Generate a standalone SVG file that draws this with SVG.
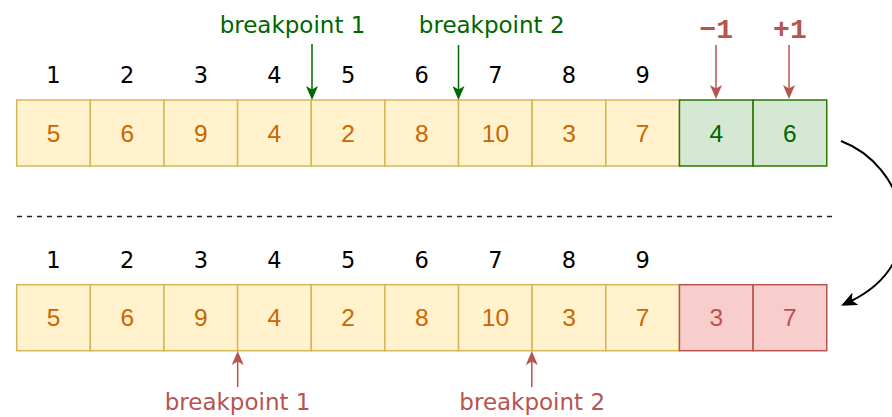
<svg xmlns="http://www.w3.org/2000/svg" width="892" height="417" viewBox="0 0 892 417">
<style>
.y{fill:#fff2cc;stroke:#d6b656;stroke-width:1.5}
.g{fill:#d5e8d4;stroke:#2d7600;stroke-width:1.5}
.r{fill:#f8cecc;stroke:#b85450;stroke-width:1.5}
.ty{fill:#cc6600}
.tg{fill:#006600}
.tr{fill:#b85450}
.v{font-family:"Liberation Sans",Arial,sans-serif;font-size:24.5px;text-anchor:middle}
.idx{font-family:"DejaVu Sans",Verdana,sans-serif;font-size:22.5px;text-anchor:middle;fill:#000}
.lbl{font-family:"DejaVu Sans",Verdana,sans-serif;font-size:23px;text-anchor:middle}
.pm{font-family:"Liberation Mono","Courier New",monospace;font-size:28px;font-weight:bold;text-anchor:middle;fill:#b85450}
</style>
<defs>
<marker id="ag" viewBox="0 0 14 12" refX="4" refY="6" markerWidth="14" markerHeight="12" markerUnits="userSpaceOnUse" orient="auto"><path d="M0,0 L14,6 L0,12 L3.5,6 Z" fill="#006600"/></marker>
<marker id="ar" viewBox="0 0 14 12" refX="4" refY="6" markerWidth="14" markerHeight="12" markerUnits="userSpaceOnUse" orient="auto"><path d="M0,0 L14,6 L0,12 L3.5,6 Z" fill="#b85450"/></marker>
<marker id="ak" viewBox="0 0 16 14" refX="5" refY="7" markerWidth="16" markerHeight="14" markerUnits="userSpaceOnUse" orient="auto"><path d="M0,0 L16,7 L0,14 L4,7 Z" fill="#000"/></marker>
</defs>

<g id="top-indices" class="idx">
<text x="53.5" y="83">1</text><text x="127.2" y="83">2</text><text x="200.8" y="83">3</text><text x="274.4" y="83">4</text><text x="348.1" y="83">5</text><text x="421.7" y="83">6</text><text x="495.4" y="83">7</text><text x="569" y="83">8</text><text x="642.6" y="83">9</text>
</g>

<g id="top-row">
<g id="t1"><rect class="y" x="16.7" y="100" width="73.64" height="66"/><text class="v ty" x="53.5" y="141.5">5</text></g>
<g id="t2"><rect class="y" x="90.34" y="100" width="73.64" height="66"/><text class="v ty" x="127.2" y="141.5">6</text></g>
<g id="t3"><rect class="y" x="163.98" y="100" width="73.64" height="66"/><text class="v ty" x="200.8" y="141.5">9</text></g>
<g id="t4"><rect class="y" x="237.62" y="100" width="73.64" height="66"/><text class="v ty" x="274.4" y="141.5">4</text></g>
<g id="t5"><rect class="y" x="311.26" y="100" width="73.64" height="66"/><text class="v ty" x="348.1" y="141.5">2</text></g>
<g id="t6"><rect class="y" x="384.9" y="100" width="73.64" height="66"/><text class="v ty" x="421.7" y="141.5">8</text></g>
<g id="t7"><rect class="y" x="458.54" y="100" width="73.64" height="66"/><text class="v ty" x="495.4" y="141.5">10</text></g>
<g id="t8"><rect class="y" x="532.18" y="100" width="73.64" height="66"/><text class="v ty" x="569" y="141.5">3</text></g>
<g id="t9"><rect class="y" x="605.82" y="100" width="73.64" height="66"/><text class="v ty" x="642.6" y="141.5">7</text></g>
<g id="t10"><rect class="g" x="679.46" y="100" width="73.64" height="66"/><text class="v tg" x="716.3" y="141.5">4</text></g>
<g id="t11"><rect class="g" x="753.1" y="100" width="73.64" height="66"/><text class="v tg" x="789.9" y="141.5">6</text></g>
</g>

<g id="bottom-indices" class="idx">
<text x="53.5" y="268">1</text><text x="127.2" y="268">2</text><text x="200.8" y="268">3</text><text x="274.4" y="268">4</text><text x="348.1" y="268">5</text><text x="421.7" y="268">6</text><text x="495.4" y="268">7</text><text x="569" y="268">8</text><text x="642.6" y="268">9</text>
</g>

<g id="bottom-row">
<g id="b1"><rect class="y" x="16.7" y="284.7" width="73.64" height="66"/><text class="v ty" x="53.5" y="326.2">5</text></g>
<g id="b2"><rect class="y" x="90.34" y="284.7" width="73.64" height="66"/><text class="v ty" x="127.2" y="326.2">6</text></g>
<g id="b3"><rect class="y" x="163.98" y="284.7" width="73.64" height="66"/><text class="v ty" x="200.8" y="326.2">9</text></g>
<g id="b4"><rect class="y" x="237.62" y="284.7" width="73.64" height="66"/><text class="v ty" x="274.4" y="326.2">4</text></g>
<g id="b5"><rect class="y" x="311.26" y="284.7" width="73.64" height="66"/><text class="v ty" x="348.1" y="326.2">2</text></g>
<g id="b6"><rect class="y" x="384.9" y="284.7" width="73.64" height="66"/><text class="v ty" x="421.7" y="326.2">8</text></g>
<g id="b7"><rect class="y" x="458.54" y="284.7" width="73.64" height="66"/><text class="v ty" x="495.4" y="326.2">10</text></g>
<g id="b8"><rect class="y" x="532.18" y="284.7" width="73.64" height="66"/><text class="v ty" x="569" y="326.2">3</text></g>
<g id="b9"><rect class="y" x="605.82" y="284.7" width="73.64" height="66"/><text class="v ty" x="642.6" y="326.2">7</text></g>
<g id="b10"><rect class="r" x="679.46" y="284.7" width="73.64" height="66"/><text class="v tr" x="716.3" y="326.2">3</text></g>
<g id="b11"><rect class="r" x="753.1" y="284.7" width="73.64" height="66"/><text class="v tr" x="789.9" y="326.2">7</text></g>
</g>

<g id="labels">
<text class="lbl tg" x="292.5" y="33">breakpoint 1</text>
<text class="lbl tg" x="491.7" y="33">breakpoint 2</text>
<text class="pm" x="716.3" y="38">−1</text>
<text class="pm" x="789.9" y="38">+1</text>
<text class="lbl tr" x="237.6" y="410">breakpoint 1</text>
<text class="lbl tr" x="532.2" y="410">breakpoint 2</text>
</g>

<line id="divider" x1="17" y1="216.5" x2="835" y2="216.5" stroke="#222" stroke-width="1.7" stroke-dasharray="5 5"/>

<g id="connectors" fill="none" stroke-width="1.5">
<line x1="312" y1="44" x2="312" y2="90" stroke="#006600" marker-end="url(#ag)"/>
<line x1="458.5" y1="45" x2="458.5" y2="90" stroke="#006600" marker-end="url(#ag)"/>
<line x1="716" y1="45" x2="716" y2="89" stroke="#b85450" marker-end="url(#ar)"/>
<line x1="789" y1="45" x2="789" y2="89" stroke="#b85450" marker-end="url(#ar)"/>
<line x1="237.7" y1="387" x2="237.7" y2="361" stroke="#b85450" marker-end="url(#ar)"/>
<line x1="531.8" y1="387" x2="531.8" y2="361" stroke="#b85450" marker-end="url(#ar)"/>
<path d="M841,141 C905,165 935,260 851,301" stroke="#000" stroke-width="2" marker-end="url(#ak)"/>
</g>
</svg>
